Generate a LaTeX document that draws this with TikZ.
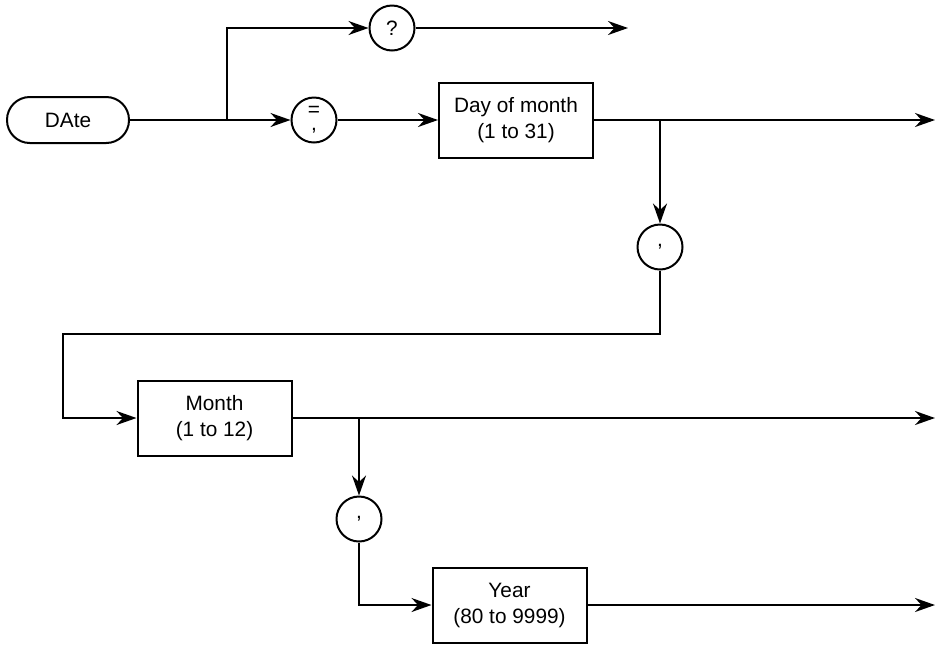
\documentclass[tikz,border=0pt]{standalone}
\usepackage{fontspec}
\setmainfont{Liberation Sans}
\usetikzlibrary{arrows.meta}

\begin{document}
\begin{tikzpicture}[
    x=0.5pt, y=-0.5pt,
    every node/.style={font=\fontsize{10.4}{13}\selectfont},
    box/.style={rectangle, draw, line width=1pt, minimum width=77pt, minimum height=37.5pt, align=center, inner sep=0pt},
    term/.style={rectangle, draw, rounded corners=11.4pt, line width=1pt, minimum width=61pt, minimum height=23pt},
    sym/.style={circle, draw, line width=1pt, minimum size=22.5pt, inner sep=0pt, align=center},
    arrow/.style={-{Stealth[length=10pt, width=7pt]}, line width=1pt}
]
\useasboundingbox (0,0) rectangle (936,644);

% Command keyword
\node[term] (date) at (68,120) {DAte};

% First row
\node[sym] (query) at (392,28) {?};
\node[sym] (equals) at (314,120) {=\\[-6pt],};
\node[box] (day) at (516,120) {Day of month\\(1 to 31)};

% Second row
\node[sym] (comma1) at (660,247) {,};
\node[box] (month) at (214.5,418) {Month\\(1 to 12)};

% Third row
\node[sym] (comma2) at (359,519) {,};
\node[box] (year) at (509.5,605) {Year\\(80 to 9999)};

% Branch points and free ends
\coordinate (br1) at (227,120);
\coordinate (br2) at (660,120);
\coordinate (br3) at (359,418);
\coordinate (turnr) at (660,334);
\coordinate (turnl) at (63,334);
\coordinate (queryend) at (628,28);
\coordinate (dayend) at (935,120);
\coordinate (monthend) at (935,418);
\coordinate (yearend) at (935,605);

% Arrows
\draw[arrow] (date) -- (equals);
\draw[arrow] (br1) |- (query);
\draw[arrow] (query) -- (queryend);
\draw[arrow] (equals) -- (day);
\draw[arrow] (day) -- (dayend);
\draw[arrow] (br2) -- (comma1);
\draw[arrow] (comma1) -- (turnr) -- (turnl) |- (month);
\draw[arrow] (month) -- (monthend);
\draw[arrow] (br3) -- (comma2);
\draw[arrow] (comma2) |- (year);
\draw[arrow] (year) -- (yearend);

\end{tikzpicture}
\end{document}
